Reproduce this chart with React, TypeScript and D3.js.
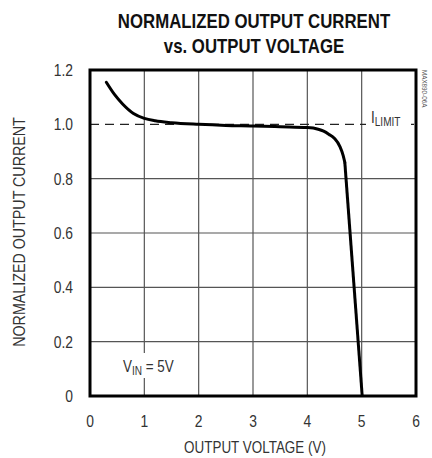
import React from "react";
import * as d3 from "d3";

const xTicks = [0, 1, 2, 3, 4, 5, 6];
const yTicks = [0, 0.2, 0.4, 0.6, 0.8, 1.0, 1.2];
const yTickLabels = ["0", "0.2", "0.4", "0.6", "0.8", "1.0", "1.2"];
const curveV = [0.3, 0.45, 0.6, 0.8, 1.0, 1.2, 1.5, 2.0, 2.5, 3.0, 3.5, 4.0, 4.2, 4.3, 4.4, 4.5, 4.6, 4.66, 4.69];
const curveI = [1.155, 1.11, 1.075, 1.04, 1.022, 1.013, 1.006, 1.0, 0.996, 0.994, 0.991, 0.988, 0.982, 0.975, 0.963, 0.948, 0.918, 0.885, 0.86];
const dropV = [4.69, 5.01];
const dropI = [0.86, 0];
const limitLevel = 1.0;

const FONT = "'Liberation Sans', Arial, sans-serif";
const SX = 0.84;

function NText({ x, y, rotate = 0, anchor = "start", size, weight = "normal", fill = "#333", children }: any) {
  return (
    <g transform={`translate(${x},${y}) rotate(${rotate}) scale(${SX},1)`}>
      <text x={0} y={0} textAnchor={anchor} fontSize={size} fontWeight={weight} fill={fill}>{children}</text>
    </g>
  );
}

export default function App() {
  const W = 432, H = 458;
  const L = 90, R = 416, T = 70, B = 396;
  const x = d3.scaleLinear().domain([0, 6]).range([L, R]);
  const y = d3.scaleLinear().domain([0, 1.2]).range([B, T]);
  const pts: [number, number][] = curveV.map((v, i) => [v, curveI[i]]);
  const smooth = d3.line<[number, number]>().x(d => x(d[0])).y(d => y(d[1])).curve(d3.curveMonotoneX)(pts) || "";
  const drop = d3.line<[number, number]>().x(d => x(d[0])).y(d => y(d[1]))(dropV.map((v, i) => [v, dropI[i]] as [number, number])) || "";
  const tickColor = "#333";
  return (
    <svg width={W} height={H} style={{ position: "absolute", left: 0, top: 0, background: "#fff" }} fontFamily={FONT}>
      <rect x={0} y={0} width={W} height={H} fill="#fff" />
      <NText x={254} y={28} anchor="middle" size={20} weight="bold" fill="#111">NORMALIZED OUTPUT CURRENT</NText>
      <NText x={254} y={53} anchor="middle" size={20} weight="bold" fill="#111">vs. OUTPUT VOLTAGE</NText>
      {/* grid */}
      {xTicks.slice(1, -1).map(t => (
        <line key={"gx" + t} x1={x(t)} x2={x(t)} y1={T} y2={B} stroke="#555" strokeWidth={1.2} />
      ))}
      {yTicks.slice(1, -1).filter(t => t !== limitLevel).map(t => (
        <line key={"gy" + t} x1={L} x2={R} y1={y(t)} y2={y(t)} stroke="#555" strokeWidth={1.2} />
      ))}
      <line x1={L} x2={R} y1={y(limitLevel)} y2={y(limitLevel)} stroke="#222" strokeWidth={1.2} strokeDasharray="9,6" />
      {/* labels with white background */}
      <rect x={120} y={353} width={57} height={25} fill="#fff" />
      <g transform={`translate(123,372) scale(${SX},1)`}>
        <text x={0} y={0} fontSize={16} fill={tickColor}>V<tspan fontSize={12} dy={3}>IN</tspan><tspan dy={-3}> = 5V</tspan></text>
      </g>
      <rect x={366} y={106} width={45} height={22} fill="#fff" />
      <g transform={`translate(371,123) scale(${SX},1)`}>
        <text x={0} y={0} fontSize={16} fill={tickColor}>I<tspan fontSize={12} dy={2.5}>LIMIT</tspan></text>
      </g>
      {/* curve */}
      <path d={smooth} fill="none" stroke="#000" strokeWidth={3} strokeLinejoin="round" strokeLinecap="round" />
      <path d={drop} fill="none" stroke="#000" strokeWidth={3} strokeLinejoin="round" />
      {/* frame */}
      <rect x={L} y={T} width={R - L} height={B - T} fill="none" stroke="#000" strokeWidth={3} />
      {/* tick labels */}
      {xTicks.map(t => (
        <NText key={"xt" + t} x={x(t)} y={427} anchor="middle" size={16.5}>{t}</NText>
      ))}
      {yTicks.map((t, i) => (
        <NText key={"yt" + t} x={73} y={y(t) + 6} anchor="end" size={16.5}>{yTickLabels[i]}</NText>
      ))}
      <NText x={255} y={453} anchor="middle" size={16}>OUTPUT VOLTAGE (V)</NText>
      <NText x={25} y={232} rotate={-90} anchor="middle" size={17}>NORMALIZED OUTPUT CURRENT</NText>
      <NText x={422} y={70} rotate={90} anchor="start" size={7.5} fill="#555">MAX890-06A</NText>
    </svg>
  );
}
